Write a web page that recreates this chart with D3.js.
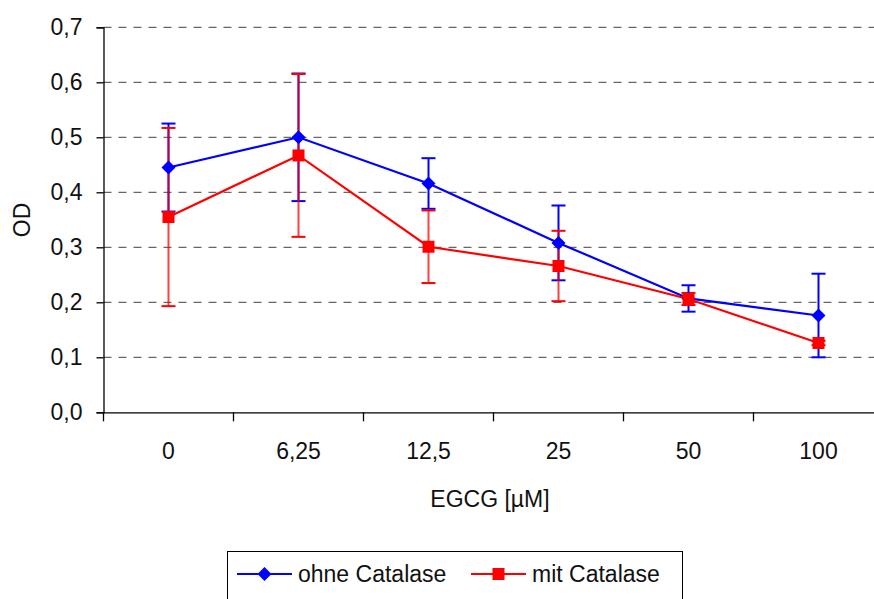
<!DOCTYPE html>
<html><head><meta charset="utf-8">
<script src="https://cdn.jsdelivr.net/npm/d3@7/dist/d3.min.js"></script>
<style>
html,body{margin:0;padding:0;background:#fff;}
svg{display:block;font-family:"Liberation Sans",Arial,sans-serif;}
</style></head>
<body>
<svg id="c" width="874" height="599"></svg>
<script>
const categories = ["0","6,25","12,5","25","50","100"];
const ohneValues = [0.445, 0.500, 0.416, 0.308, 0.207, 0.176];
const ohneErrors = [0.080, 0.116, 0.046, 0.068, 0.024, 0.076];
const mitValues  = [0.355, 0.467, 0.301, 0.266, 0.206, 0.126];
const mitErrors  = [0.162, 0.148, 0.066, 0.064, 0.011, 0.004];
const yTicks = [0,0.1,0.2,0.3,0.4,0.5,0.6,0.7];
const seriesNames = ["ohne Catalase","mit Catalase"];
const xTitle = "EGCG [µM]";
const yTitle = "OD";

const svg = d3.select("#c");
const L = 103.5, R = 883.5, T = 27.3, B = 412.3;
const x = d3.scaleBand().domain(categories).range([L,R]).paddingInner(0).paddingOuter(0);
const y = d3.scaleLinear().domain([0,0.7]).range([B,T]);
const fmt = v => d3.format(".1f")(v).replace(".", ",");
const FS = 23;

// grid
svg.append("g").selectAll("line").data(yTicks.filter(t=>t>0)).join("line")
  .attr("x1",L).attr("x2",R).attr("y1",d=>y(d)).attr("y2",d=>y(d))
  .attr("stroke","#404040").attr("stroke-width",1).attr("stroke-dasharray","8,7");

// y axis
const ya = svg.append("g").attr("transform",`translate(${L},0)`)
  .call(d3.axisLeft(y).tickValues(yTicks).tickFormat(fmt).tickSize(7).tickPadding(14));
ya.select(".domain").attr("stroke","#000").attr("stroke-width",1.3);
ya.selectAll(".tick line").attr("stroke","#000").attr("stroke-width",1.3);
ya.selectAll(".tick text").attr("font-size",FS).attr("font-family","Liberation Sans, Arial, sans-serif").attr("fill","#111");

// x axis
const xa = svg.append("g").attr("transform",`translate(0,${B})`)
  .call(d3.axisBottom(x).tickSize(0).tickPadding(30));
xa.select(".domain").attr("stroke","#000").attr("stroke-width",1.3);
xa.selectAll(".tick text").attr("font-size",FS).attr("font-family","Liberation Sans, Arial, sans-serif").attr("fill","#111");
// category boundary ticks
const bounds = categories.map(c=>x(c)).concat([x(categories[categories.length-1])+x.bandwidth()]);
svg.append("g").selectAll("line").data(bounds).join("line")
  .attr("x1",d=>d).attr("x2",d=>d).attr("y1",B).attr("y2",B+9)
  .attr("stroke","#000").attr("stroke-width",1.3);

// titles
svg.append("text").attr("x",490).attr("y",507).attr("text-anchor","middle")
  .attr("font-size",FS).attr("fill","#111").text(xTitle);
svg.append("text").attr("transform","translate(30,220) rotate(-90)").attr("text-anchor","middle")
  .attr("font-size",FS).attr("fill","#111").text(yTitle);

const cx = c => x(c) + x.bandwidth()/2;
const series = [
  {name:seriesNames[0], vals:ohneValues, errs:ohneErrors, color:"#0000ff", shape:"diamond"},
  {name:seriesNames[1], vals:mitValues,  errs:mitErrors,  color:"#ff0000", shape:"square"}
];

// error bars
series.forEach(s=>{
  const g = svg.append("g").attr("stroke",s.color).attr("stroke-width",2).attr("fill","none");
  categories.forEach((c,i)=>{
    const hi = y(s.vals[i]+s.errs[i]), lo = y(s.vals[i]-s.errs[i]), xc = cx(c);
    g.append("line").attr("x1",xc).attr("x2",xc).attr("y1",hi).attr("y2",lo)
      .attr("stroke-opacity", s.shape==="square"?0.75:1);
    g.append("line").attr("x1",xc-7).attr("x2",xc+7).attr("y1",hi).attr("y2",hi);
    g.append("line").attr("x1",xc-7).attr("x2",xc+7).attr("y1",lo).attr("y2",lo);
  });
});

// lines
const line = d3.line().x(d=>cx(d.c)).y(d=>y(d.v));
series.forEach(s=>{
  svg.append("path").datum(categories.map((c,i)=>({c,v:s.vals[i]})))
    .attr("d",line).attr("fill","none").attr("stroke",s.color).attr("stroke-width",2.2);
});

function marker(g, shape, color, px, py){
  if(shape==="diamond"){
    g.append("path").attr("d",`M${px},${py-7}L${px+7},${py}L${px},${py+7}L${px-7},${py}Z`).attr("fill",color);
  } else {
    g.append("rect").attr("x",px-6).attr("y",py-6).attr("width",12).attr("height",12).attr("fill",color);
  }
}
series.forEach(s=>{
  const g = svg.append("g");
  categories.forEach((c,i)=>marker(g,s.shape,s.color,cx(c),y(s.vals[i])));
});

// legend
const lg = svg.append("g");
lg.append("rect").attr("x",227.5).attr("y",551.5).attr("width",455).attr("height",60)
  .attr("fill","#fff").attr("stroke","#000").attr("stroke-width",1);
const legendItems = [
  {s:series[0], x0:237, x1:292, tx:298},
  {s:series[1], x0:471, x1:526, tx:532}
];
legendItems.forEach(it=>{
  const ly = 574;
  lg.append("line").attr("x1",it.x0).attr("x2",it.x1).attr("y1",ly).attr("y2",ly)
    .attr("stroke",it.s.color).attr("stroke-width",2.2);
  marker(lg,it.s.shape,it.s.color,(it.x0+it.x1)/2,ly);
  lg.append("text").attr("x",it.tx).attr("y",582).attr("font-size",FS).attr("fill","#111").text(it.s.name);
});
</script>
</body></html>
